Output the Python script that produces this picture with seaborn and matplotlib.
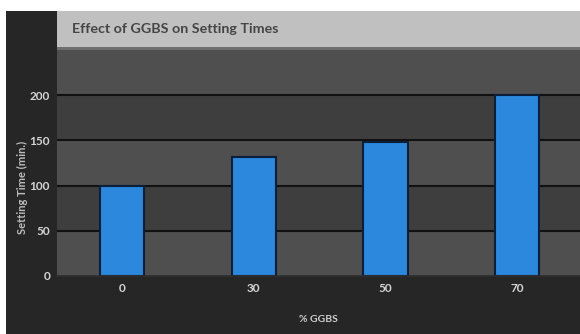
import matplotlib
matplotlib.use("Agg")
import matplotlib.pyplot as plt
import seaborn as sns
import pandas as pd
from matplotlib.patches import Rectangle

categories = ["0", "30", "50", "70"]
setting_time = [100, 132, 148, 200]
y_ticks = [0, 50, 100, 150, 200]
title = "Effect of GGBS on Setting Times"
x_label = "% GGBS"
y_label = "Setting Time (min.)"

sns.set_theme(style="dark")
plt.rcParams['font.family'] = ['Lato', 'DejaVu Sans']

W, H = 580, 334
fig = plt.figure(figsize=(W / 100, H / 100), dpi=100, facecolor="#262626")

# white margins top and left
fig.patches.append(Rectangle((0, (H - 11) / H), 1, 11 / H, transform=fig.transFigure,
                             facecolor="white", edgecolor="none", zorder=0))
fig.patches.append(Rectangle((0, 0), 6 / W, 1, transform=fig.transFigure,
                             facecolor="white", edgecolor="none", zorder=0))
# title band
fig.patches.append(Rectangle((57 / W, (H - 47) / H), 1, 36 / H, transform=fig.transFigure,
                             facecolor="#c0c0c0", edgecolor="none", zorder=0))
fig.patches.append(Rectangle((57 / W, (H - 50) / H), 1, 3 / H, transform=fig.transFigure,
                             facecolor="#6e6e6e", edgecolor="none", zorder=0))
fig.text(72 / W, (H - 29) / H, title, ha="left", va="center", fontsize=10.3,
         fontweight="bold", color="#454545")

ax = fig.add_axes([57 / W, 58 / H, (W - 57) / W, 226 / H])
ax.set_facecolor("#4d4d4d")

# alternating bands
ymax = 250
for i, lo in enumerate(y_ticks):
    hi = y_ticks[i + 1] if i + 1 < len(y_ticks) else ymax
    ax.axhspan(lo, hi, color="#4f4f4f" if i % 2 == 0 else "#3e3e3e", zorder=0, lw=0)
for t in y_ticks[1:]:
    ax.axhline(t, color="#111111", lw=1.5, zorder=1)

df = pd.DataFrame({"ggbs": categories, "time": setting_time})
sns.barplot(data=df, x="ggbs", y="time", ax=ax, color="#2b88dc", saturation=1,
            width=0.336, edgecolor="#0b1f3a", linewidth=1.5, zorder=2)

ax.set_xlim(-0.494, 3.478)
ax.set_ylim(0, ymax)
ax.set_yticks(y_ticks)
ax.set_yticklabels([str(t) for t in y_ticks])
ax.tick_params(axis="both", colors="#d5d5d5", labelsize=8.5, length=0, pad=5)
for lbl in ax.get_xticklabels() + ax.get_yticklabels():
    lbl.set_fontweight("bold")
ax.set_xlabel(x_label, color="#cfcfcf", fontsize=7.5, fontweight="bold", labelpad=15)
ax.set_ylabel(y_label, color="#bdbdbd", fontsize=8, fontweight="bold")
ax.yaxis.set_label_coords(-0.056, 0.39)
ax.grid(False)
for s in ["top", "right", "left"]:
    ax.spines[s].set_visible(False)
ax.spines["bottom"].set_color("#2e2e2e")
ax.spines["bottom"].set_linewidth(1.2)

fig.savefig("out.png", dpi=100, facecolor=fig.get_facecolor())
